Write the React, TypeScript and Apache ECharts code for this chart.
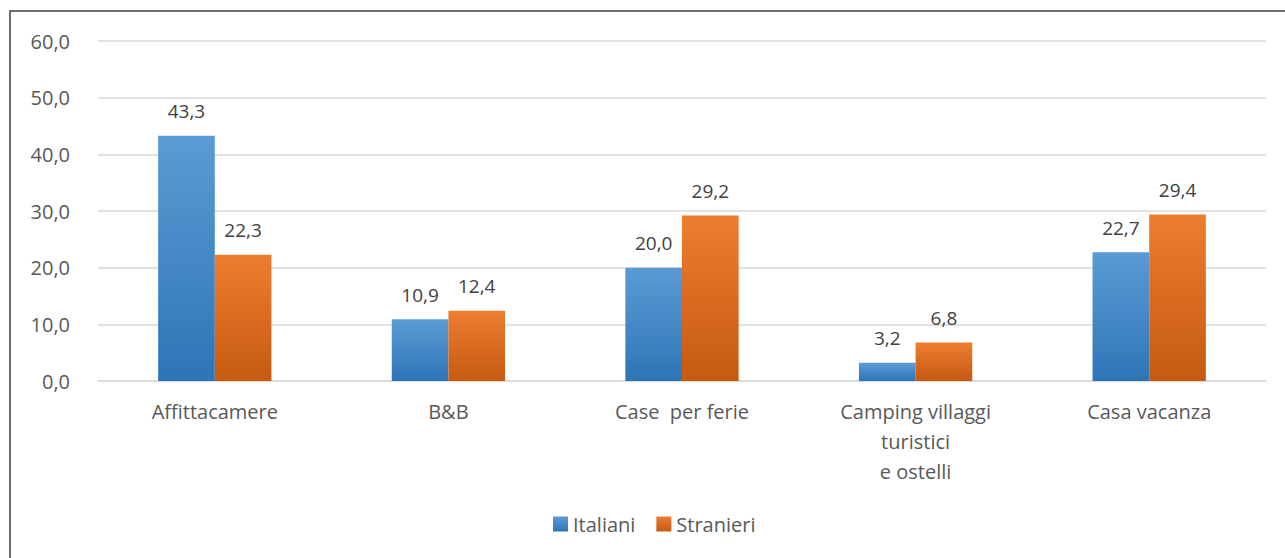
import React, { useEffect, useRef } from "react";
import * as echarts from "echarts";

const categories = [
  "Affittacamere",
  "B&B",
  "Case  per ferie",
  "Camping villaggi\nturistici\ne ostelli",
  "Casa vacanza",
];
const italiani = [43.3, 10.9, 20.0, 3.2, 22.7];
const stranieri = [22.3, 12.4, 29.2, 6.8, 29.4];
const seriesNames = ["Italiani", "Stranieri"];

const FONT = "'Open Sans', 'Noto Sans', sans-serif";
const fmt = (v: number) => v.toFixed(1).replace(".", ",");

export default function App() {
  const ref = useRef<HTMLDivElement>(null);
  useEffect(() => {
    if (!ref.current) return;
    const chart = echarts.init(ref.current, undefined, { renderer: "svg" });
    const blue = new echarts.graphic.LinearGradient(0, 0, 0, 1, [
      { offset: 0, color: "#5b9bd5" },
      { offset: 1, color: "#2e75b6" },
    ]);
    const orange = new echarts.graphic.LinearGradient(0, 0, 0, 1, [
      { offset: 0, color: "#ed7d31" },
      { offset: 1, color: "#c55a11" },
    ]);
    const label = {
      show: true,
      position: "top" as const,
      distance: 15,
      color: "#404040",
      fontFamily: FONT,
      fontSize: 19,
      formatter: (p: any) => fmt(p.value),
    };
    chart.setOption({
      animation: false,
      backgroundColor: "#ffffff",
      graphic: [
        {
          type: "rect",
          shape: { x: 10, y: 11, width: 1400, height: 700 },
          style: { fill: "none", stroke: "#404040", lineWidth: 1.5 },
          silent: true,
        },
      ],
      grid: { left: 98, right: 19, top: 41, bottom: 177, containLabel: false },
      legend: {
        data: seriesNames,
        bottom: 19,
        left: 548,
        itemWidth: 15,
        itemHeight: 15,
        itemGap: 21,
        icon: "rect",
        textStyle: { color: "#595959", fontFamily: FONT, fontSize: 20 },
      },
      xAxis: {
        type: "category",
        data: categories,
        axisLine: { show: true, lineStyle: { color: "#d9d9d9", width: 1.5 } },
        axisTick: { show: false },
        axisLabel: {
          color: "#595959",
          fontFamily: FONT,
          fontSize: 20,
          lineHeight: 30,
          margin: 15,
          interval: 0,
        },
      },
      yAxis: {
        type: "value",
        min: 0,
        max: 60,
        interval: 10,
        axisLine: { show: false },
        axisTick: { show: false },
        splitLine: { lineStyle: { color: "#d9d9d9", width: 1.5 } },
        axisLabel: {
          color: "#595959",
          fontFamily: FONT,
          fontSize: 20,
          margin: 28,
          formatter: (v: number) => fmt(v),
        },
      },
      series: [
        {
          name: seriesNames[0],
          type: "bar",
          data: italiani,
          barGap: "0%",
          barCategoryGap: "51.5%",
          itemStyle: { color: blue },
          label,
        },
        {
          name: seriesNames[1],
          type: "bar",
          data: stranieri,
          barGap: "0%",
          barCategoryGap: "51.5%",
          itemStyle: { color: orange },
          label,
        },
      ],
    });
    return () => chart.dispose();
  }, []);
  return (
    <div
      ref={ref}
      style={{ position: "fixed", left: 0, top: 0, width: 1285, height: 558 }}
    />
  );
}
